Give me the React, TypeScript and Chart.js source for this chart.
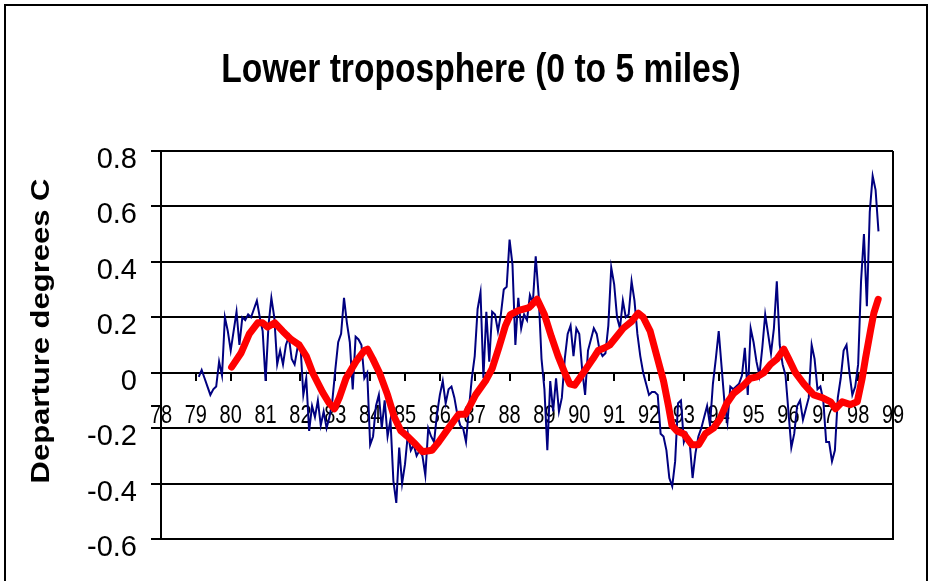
import React, { useEffect, useRef } from "react";
import { Chart, registerables } from "chart.js";

Chart.register(...registerables);

const TITLE = "Lower troposphere (0 to 5 miles)";
const Y_LABEL = "Departure degrees C";
const X_TICKS = [78, 79, 80, 81, 82, 83, 84, 85, 86, 87, 88, 89, 90, 91, 92, 93, 94, 95, 96, 97, 98, 99];
const Y_TICKS = [-0.6, -0.4, -0.2, 0, 0.2, 0.4, 0.6, 0.8];
const Y_TICK_LABELS = ["-0.6", "-0.4", "-0.2", "0", "0.2", "0.4", "0.6", "0.8"];
const X_MIN = 78;
const X_MAX = 99;
const START_YEAR = 79; // first monthly value: Jan 1979

// monthly departures (deg C), Jan 1979 .. Jul 1998
const monthlyAnomaly = [
  -0.015, 0.01, -0.02, -0.05, -0.08, -0.06, -0.05, 0.04, -0.01, 0.2, 0.15, 0.08,
  0.15, 0.22, 0.1, 0.2, 0.19, 0.21, 0.2, 0.23, 0.26, 0.2, 0.15, -0.03,
  0.17, 0.27, 0.2, 0.03, 0.08, 0.03, 0.1, 0.13, 0.05, 0.03, 0.09, 0.1,
  -0.08, -0.02, -0.21, -0.12, -0.16, -0.1, -0.19, -0.14, -0.2, -0.16, -0.1, 0.01,
  0.11, 0.14, 0.27, 0.18, 0.11, -0.06, 0.13, 0.12, 0.1, -0.02, 0.0, -0.26,
  -0.23, -0.12, -0.08, -0.2, -0.1, -0.23, -0.17, -0.39, -0.47, -0.27, -0.4, -0.33,
  -0.22, -0.28, -0.26, -0.3, -0.28, -0.3, -0.37, -0.2, -0.23, -0.25, -0.15, -0.08,
  -0.03, -0.11, -0.06, -0.05, -0.09, -0.15, -0.19, -0.2, -0.25, -0.13, -0.02, 0.06,
  0.23, 0.29, -0.02, 0.22, 0.04, 0.22, 0.21, 0.15, 0.21, 0.3, 0.31, 0.48,
  0.39, 0.1, 0.27, 0.16, 0.21, 0.19, 0.28, 0.25, 0.42, 0.28, 0.05, -0.06,
  -0.28, -0.03, -0.14, -0.02, -0.14, -0.09, 0.05, 0.14, 0.17, 0.06, 0.16, 0.14,
  0.01, -0.08, 0.08, 0.12, 0.16, 0.14, 0.08, 0.06, 0.07, 0.17, 0.38, 0.32,
  0.2, 0.16, 0.26, 0.2, 0.21, 0.33, 0.26, 0.14, 0.06, 0.0, -0.04, -0.08,
  -0.07, -0.07, -0.08, -0.22, -0.23, -0.28, -0.38, -0.41, -0.32, -0.11, -0.1, -0.25,
  -0.22, -0.25, -0.38, -0.29, -0.23, -0.2, -0.16, -0.12, -0.19, -0.04, 0.05, 0.15,
  0.02, -0.11, -0.18, -0.05, -0.06, -0.05, -0.04, -0.01, 0.09, -0.08, 0.16, 0.11,
  0.04, -0.01, 0.09, 0.21, 0.14, 0.07, 0.16, 0.33, 0.1, 0.03, -0.01, -0.14,
  -0.27, -0.22, -0.12, -0.1, -0.17, -0.13, -0.09, 0.1, 0.05, -0.06, -0.05, -0.1,
  -0.25, -0.25, -0.32, -0.28, -0.09, -0.02, 0.08, 0.1, 0.0, -0.08, -0.05, 0.03,
  0.33, 0.5, 0.24, 0.58, 0.71, 0.66, 0.51,
];

// smoothed curve: month index (0 = Jan 1979) and value
const smoothMonth = [
  11.3, 14.5, 17.4, 20.3, 22, 23.7, 26.2, 28.9, 31.8, 34.6, 37, 39.2, 42.6, 44.9, 46.7, 48.4,
  50.7, 54.1, 57, 58.1, 59.9, 62.2, 65, 67.3, 69.6, 71.9, 74.8, 77, 80.3, 82.6, 86, 89.5,
  91.8, 95.3, 98.7, 101, 103.3, 105.6, 107.3, 110.2, 113.7, 116.5, 119, 121.4, 123.7, 126,
  127.7, 129.4, 131.1, 133.4, 135.7, 137.5, 139.8, 141.5, 143.8, 146.1, 149, 151.3, 153,
  155.4, 157.7, 160, 161.7, 162.9, 164.6, 166.9, 169.8, 172.1, 174.4, 177.2, 179.5, 181.8,
  184.1, 187.6, 189.9, 192.2, 194.5, 196.8, 199.1, 201.4, 203.1, 205.4, 208.3, 211.7, 214.6,
  217.5, 219.2, 221.5, 224.4, 226.7, 228.4, 229.5, 231.3, 232.4, 233.9,
];
const smoothValue = [
  0.02, 0.07, 0.14, 0.18, 0.18, 0.165, 0.18, 0.15, 0.12, 0.1, 0.06, 0.0, -0.07, -0.11, -0.13, -0.09,
  -0.02, 0.04, 0.08, 0.085, 0.05, 0.0, -0.08, -0.16, -0.21, -0.23, -0.26, -0.285, -0.28, -0.25, -0.2, -0.15,
  -0.15, -0.08, -0.03, 0.015, 0.09, 0.17, 0.21, 0.225, 0.235, 0.265, 0.21, 0.13, 0.06, 0.0,
  -0.04, -0.045, -0.02, 0.015, 0.05, 0.08, 0.09, 0.1, 0.13, 0.16, 0.185, 0.215, 0.2,
  0.15, 0.06, -0.03, -0.12, -0.19, -0.21, -0.22, -0.26, -0.26, -0.22, -0.2, -0.165, -0.11,
  -0.075, -0.045, -0.02, -0.015, 0.0, 0.03, 0.05, 0.085, 0.05, 0.0, -0.04, -0.08, -0.09,
  -0.105, -0.13, -0.105, -0.115, -0.105, -0.02, 0.05, 0.155, 0.215, 0.265,
];

const FONT = "'Liberation Sans', Arial, Helvetica, sans-serif";

const framePlugin = {
  id: "framePlugin",
  beforeDraw(chart: any) {
    const ctx = chart.ctx;
    ctx.save();
    ctx.fillStyle = "#ffffff";
    ctx.fillRect(0, 0, chart.width, chart.height);
    ctx.strokeStyle = "#000000";
    ctx.lineWidth = 2;
    ctx.strokeRect(5, 5, 922, 620);
    ctx.restore();
  },
  beforeDatasetsDraw(chart: any) {
    const ctx = chart.ctx;
    const area = chart.chartArea;
    const xs = chart.scales.x;
    const ys = chart.scales.y;
    ctx.save();
    // plot frame right & bottom
    ctx.strokeStyle = "#000000";
    ctx.lineWidth = 2;
    ctx.beginPath();
    ctx.moveTo(area.right, area.top);
    ctx.lineTo(area.right, area.bottom);
    ctx.lineTo(area.left, area.bottom);
    ctx.stroke();
    ctx.fillStyle = "#000000";
    // y tick labels
    ctx.font = `29px ${FONT}`;
    ctx.textAlign = "right";
    ctx.textBaseline = "alphabetic";
    Y_TICKS.forEach((t, k) => {
      const py = ys.getPixelForValue(t);
      ctx.fillText(Y_TICK_LABELS[k], 137, py + 17);
    });
    // x tick labels (narrow)
    const y0 = ys.getPixelForValue(0);
    ctx.font = `25px ${FONT}`;
    ctx.textAlign = "center";
    X_TICKS.forEach((t) => {
      const px = xs.getPixelForValue(t);
      ctx.save();
      ctx.translate(px, y0 + 50);
      ctx.scale(0.8, 1);
      ctx.fillText(String(t), 0, 0);
      ctx.restore();
    });
    ctx.restore();
  },
  afterDraw(chart: any) {
    const ctx = chart.ctx;
    ctx.save();
    ctx.fillStyle = "#000000";
    // title
    ctx.font = `bold 41px ${FONT}`;
    ctx.textAlign = "center";
    ctx.textBaseline = "alphabetic";
    ctx.save();
    ctx.translate(481, 82);
    ctx.scale(0.82, 1);
    ctx.fillText(TITLE, 0, 0);
    ctx.restore();
    // y axis title
    ctx.save();
    ctx.translate(49, 331);
    ctx.rotate(-Math.PI / 2);
    ctx.scale(1, 0.84);
    ctx.font = `bold 31px ${FONT}`;
    ctx.textAlign = "center";
    ctx.fillText(Y_LABEL, 0, 0);
    ctx.restore();
    ctx.restore();
  },
};

export default function App() {
  const ref = useRef<HTMLCanvasElement | null>(null);

  useEffect(() => {
    const canvas = ref.current;
    if (!canvas) return;
    const chart = new Chart(canvas, {
      type: "line",
      data: {
        datasets: [
          {
            label: "Smoothed",
            data: smoothMonth.map((m, k) => ({ x: START_YEAR + (m + 1) / 12, y: smoothValue[k] })),
            borderColor: "#ff0000",
            backgroundColor: "#ff0000",
            borderWidth: 7,
            borderCapStyle: "round",
            borderJoinStyle: "round",
            pointRadius: 0,
            tension: 0,
            order: 1,
          },
          {
            label: "Monthly",
            data: monthlyAnomaly.map((v, i) => ({ x: START_YEAR + (i + 1) / 12, y: v })),
            borderColor: "#000080",
            backgroundColor: "#000080",
            borderWidth: 2,
            pointRadius: 0,
            tension: 0,
            order: 2,
          },
        ],
      },
      options: {
        responsive: false,
        animation: false,
        events: [],
        layout: { padding: { left: 0, top: 151, right: 39, bottom: 42 } },
        plugins: {
          legend: { display: false },
          tooltip: { enabled: false },
          title: { display: false },
        },
        scales: {
          x: {
            type: "linear",
            min: X_MIN,
            max: X_MAX,
            position: { y: 0 } as any,
            afterBuildTicks: (s: any) => {
              s.ticks = X_TICKS.map((v) => ({ value: v }));
            },
            ticks: { display: false },
            grid: {
              drawOnChartArea: false,
              drawTicks: true,
              tickLength: 7,
              color: "#000000",
              lineWidth: 2,
            },
            border: { display: true, color: "#000000", width: 2 },
          },
          y: {
            type: "linear",
            min: -0.6,
            max: 0.8,
            afterBuildTicks: (s: any) => {
              s.ticks = Y_TICKS.map((v) => ({ value: v }));
            },
            afterFit: (s: any) => {
              s.width = 161;
            },
            ticks: { display: false },
            grid: { color: "#000000", lineWidth: 2, tickLength: 10, drawTicks: true },
            border: { display: true, color: "#000000", width: 2 },
          },
        },
      } as any,
      plugins: [framePlugin],
    });
    return () => chart.destroy();
  }, []);

  return (
    <div style={{ position: "fixed", left: 0, top: 0, width: 932, height: 581, background: "#fff" }}>
      <canvas ref={ref} width={932} height={581} style={{ width: 932, height: 581, display: "block" }} />
    </div>
  );
}
